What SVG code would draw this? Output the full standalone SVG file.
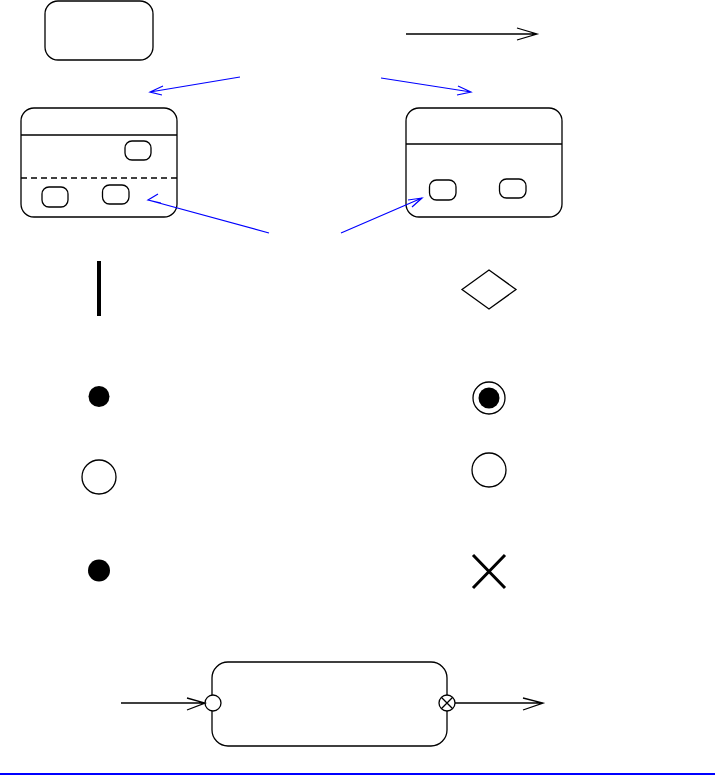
<svg xmlns="http://www.w3.org/2000/svg" width="721" height="777" viewBox="0 0 721 777">
<style>
.s{fill:#fff;stroke:#000;stroke-width:1.3}
.ln{fill:none;stroke:#000;stroke-width:1.3}
.bl{fill:none;stroke:#00f;stroke-width:1.2}
.fill{fill:#000}
</style>
<rect width="721" height="777" fill="#fff"/>
<g id="state">
<rect class="s" x="45" y="1" width="108" height="59" rx="13"/>
</g>
<g id="composite-left">
<rect class="s" x="21" y="108" width="156" height="109" rx="13"/>
<line class="ln" x1="21" y1="135" x2="177" y2="135"/>
<line class="ln" x1="21" y1="178" x2="177" y2="178" stroke-dasharray="6,4"/>
<rect class="s" x="125" y="141" width="26" height="19" rx="7"/>
<rect class="s" x="42" y="187" width="26" height="20" rx="7"/>
<rect class="s" x="102.5" y="185" width="26.5" height="19" rx="7"/>
</g>
<g id="composite-right">
<rect class="s" x="406" y="108" width="156" height="109" rx="13"/>
<line class="ln" x1="406" y1="144" x2="562" y2="144"/>
<rect class="s" x="429.5" y="180" width="26.5" height="20" rx="7"/>
<rect class="s" x="499.5" y="179" width="26.5" height="19" rx="7"/>
</g>
<g id="fork-bar"><rect class="fill" x="97" y="261" width="4" height="55"/></g>
<g id="choice"><polygon class="s" points="462,289.5 489,270 516,289.5 489,309"/></g>
<g id="initial"><circle class="fill" cx="99" cy="396.5" r="10.5"/></g>
<g id="final"><circle class="s" cx="489" cy="398" r="16"/><circle class="fill" cx="489" cy="398" r="10.5"/></g>
<g id="history-left"><circle class="s" cx="99" cy="477" r="17"/></g>
<g id="history-right"><circle class="s" cx="489" cy="470" r="17"/></g>
<g id="junction"><circle class="fill" cx="99" cy="570.5" r="11"/></g>
<g id="terminate"><path d="M473,555 L505,588 M505,555 L473,588" fill="none" stroke="#000" stroke-width="3"/></g>
<g id="submachine">
<rect class="s" x="212" y="662" width="235" height="84" rx="16"/>
<circle class="s" cx="213" cy="703" r="8"/>
<circle class="s" cx="447" cy="703" r="8"/>
<path class="ln" d="M441.3,697.3 L452.7,708.7 M452.7,697.3 L441.3,708.7"/>
</g>
<g id="connectors">
<path class="ln" d="M406,34 L537,34 M517,28 L537,34 L517,40"/>
<path class="bl" d="M240,77 L150,92 M163,86 L150,92 L162,95"/>
<path class="bl" d="M381,78 L471,92 M458,86 L471,92 L457,95"/>
<path class="bl" d="M269,233 L148,200 M158,194 L148,200 L161,203"/>
<path class="bl" d="M341,233 L422,198 M408,200 L422,198 L412,207"/>
<path class="ln" d="M121,703 L205,703 M187,698 L205,703 L187,710"/>
<path class="ln" d="M455,703 L543,703 M523,698 L543,703 L523,710"/>
</g>
<line x1="0" y1="774" x2="715" y2="774" stroke="#00f" stroke-width="2"/>
</svg>
